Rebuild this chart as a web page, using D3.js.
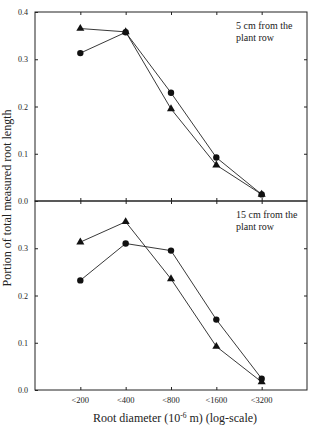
<!DOCTYPE html>
<html>
<head>
<meta charset="utf-8">
<script src="https://cdn.jsdelivr.net/npm/d3@7"></script>
<style>
  body { margin: 0; background: #fff; }
  svg { display: block; }
</style>
</head>
<body>
<svg id="chart" width="312" height="425"></svg>
<script>
// data
const categories = ['<200', '<400', '<800', '<1600', '<3200']
const yTicks = [0, 0.1, 0.2, 0.3, 0.4]

const top_circles = [0.313, 0.357, 0.229, 0.092, 0.014]
const top_triangles = [0.365, 0.358, 0.195, 0.076, 0.014]
const bottom_circles = [0.232, 0.310, 0.295, 0.149, 0.024]
const bottom_triangles = [0.313, 0.356, 0.235, 0.092, 0.017]

const panels = [
  { name: 'top', title: ['5 cm from the', 'plant row'], circles: top_circles, triangles: top_triangles, y0: 12, y1: 201, labels: yTicks },
  { name: 'bottom', title: ['15 cm from the', 'plant row'], circles: bottom_circles, triangles: bottom_triangles, y0: 201, y1: 390, labels: yTicks.slice(0, 4) },
]

const left = 35
const right = 307
const font = '"Liberation Serif", "Times New Roman", serif'

const svg = d3.select('#chart')

const x = d3.scalePoint().domain(categories).range([left, right]).padding(1)

panels.forEach((p) => {
  const y = d3.scaleLinear().domain([0, 0.4]).range([p.y1, p.y0])
  const g = svg.append('g').attr('id', p.name)

  // frame
  g.append('rect')
    .attr('x', left)
    .attr('y', p.y0)
    .attr('width', right - left)
    .attr('height', p.y1 - p.y0)
    .attr('fill', 'none')
    .attr('stroke', '#222')
    .attr('stroke-width', 1)

  // left axis
  g.append('g')
    .attr('transform', `translate(${left},0)`)
    .call(d3.axisLeft(y).tickValues(p.labels).tickFormat(d3.format('.1f')).tickSize(-3).tickPadding(7))
    .call((a) => a.select('.domain').remove())
    .call((a) => a.selectAll('line').attr('stroke', '#222'))
    .call((a) => a.selectAll('text').attr('font-family', font).attr('font-size', 8).attr('fill', '#222'))

  // right axis ticks (inward)
  g.append('g')
    .attr('transform', `translate(${right},0)`)
    .call(d3.axisRight(y).tickValues([0.1, 0.2, 0.3]).tickFormat('').tickSize(-3))
    .call((a) => a.select('.domain').remove())
    .call((a) => a.selectAll('line').attr('stroke', '#222'))

  // top and bottom category ticks (inward)
  g.append('g')
    .attr('transform', `translate(0,${p.y0})`)
    .call(d3.axisTop(x).tickFormat('').tickSize(-3))
    .call((a) => a.select('.domain').remove())
    .call((a) => a.selectAll('line').attr('stroke', '#222'))
  g.append('g')
    .attr('transform', `translate(0,${p.y1})`)
    .call(d3.axisBottom(x).tickFormat('').tickSize(-3))
    .call((a) => a.select('.domain').remove())
    .call((a) => a.selectAll('line').attr('stroke', '#222'))

  const line = d3.line().x((d, i) => x(categories[i])).y((d) => y(d))

  ;[p.circles, p.triangles].forEach((s) => {
    g.append('path')
      .datum(s)
      .attr('d', line)
      .attr('fill', 'none')
      .attr('stroke', '#222')
      .attr('stroke-width', 0.9)
  })

  g.selectAll('circle.c')
    .data(p.circles)
    .join('circle')
    .attr('class', 'c')
    .attr('cx', (d, i) => x(categories[i]))
    .attr('cy', (d) => y(d))
    .attr('r', 3.2)
    .attr('fill', '#111')

  g.selectAll('path.t')
    .data(p.triangles)
    .join('path')
    .attr('class', 't')
    .attr('d', d3.symbol(d3.symbolTriangle, 28))
    .attr('transform', (d, i) => `translate(${x(categories[i])},${y(d)})`)
    .attr('fill', '#111')

  g.append('text')
    .attr('x', 236)
    .attr('y', p.y0 + 17)
    .attr('font-family', font)
    .attr('font-size', 10)
    .attr('fill', '#222')
    .selectAll('tspan')
    .data(p.title)
    .join('tspan')
    .attr('x', 236)
    .attr('dy', (d, i) => (i === 0 ? 0 : 12))
    .text((d) => d)
})

// x tick labels
svg.append('g')
  .selectAll('text')
  .data(categories)
  .join('text')
  .attr('x', (d) => x(d))
  .attr('y', 403)
  .attr('text-anchor', 'middle')
  .attr('font-family', font)
  .attr('font-size', 8.5)
  .attr('fill', '#222')
  .text((d) => d)

// axis titles
const xt = svg.append('text')
  .attr('x', 175)
  .attr('y', 422)
  .attr('text-anchor', 'middle')
  .attr('font-family', font)
  .attr('font-size', 12)
  .attr('fill', '#222')
xt.append('tspan').text('Root diameter (10')
xt.append('tspan').attr('font-size', 7.5).attr('dy', -4.5).text('-6')
xt.append('tspan').attr('dy', 4.5).text(' m) (log-scale)')

svg.append('text')
  .attr('transform', 'translate(10.5,198) rotate(-90)')
  .attr('text-anchor', 'middle')
  .attr('font-family', font)
  .attr('font-size', 12)
  .attr('fill', '#222')
  .text('Portion of total measured root length')
</script>
</body>
</html>
